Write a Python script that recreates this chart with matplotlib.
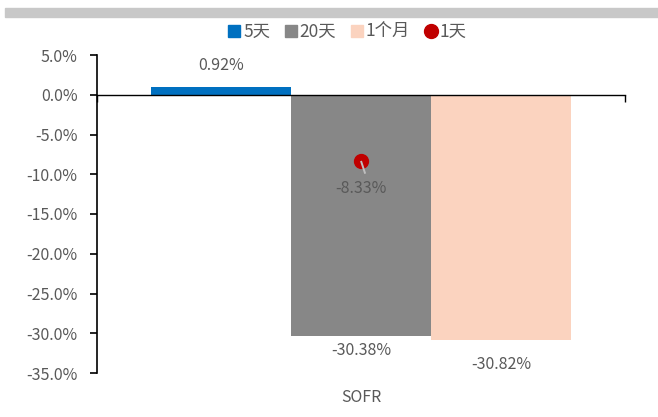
import matplotlib
matplotlib.use("Agg")
import matplotlib.pyplot as plt
from matplotlib.lines import Line2D
from matplotlib.patches import Rectangle

plt.rcParams['font.family'] = ['Noto Sans CJK SC', 'DejaVu Sans']

categories = ['SOFR']
series_names = ['5天', '20天', '1个月']
series_values = [0.92, -30.38, -30.82]
series_colors = ['#0070C0', '#878787', '#FBD3BF']
dot_name = '1天'
dot_value = -8.33
yticks = [5, 0, -5, -10, -15, -20, -25, -30, -35]

txt = '#595959'
fs = 11.5
fig = plt.figure(figsize=(6.58, 4.17), dpi=100)
ax = fig.add_axes([97/658, 1-373/417, 528/658, 318/417])

fig.patches.append(Rectangle((5/658, 1-17/417), 653/658, 9/417, transform=fig.transFigure,
                             color='#C8C8C8', zorder=0))

offsets = [-1, 0, 1]
label_gap = {-1: 2.73, 0: -1.82, 1: -3.14}
for off, v, c in zip(offsets, series_values, series_colors):
    ax.bar(0 + off, v, width=1.0, color=c, zorder=2)
    ax.text(0 + off, v + label_gap[off], f'{v:.2f}%', ha='center', va='center', fontsize=fs, color=txt)

ax.plot([0], [dot_value], 'o', color='#C00000', markersize=10, zorder=4)
ax.plot([0, 0.03], [dot_value, dot_value - 1.6], color='#BFBFBF', lw=1.4, zorder=5,
        solid_capstyle='butt')
ax.text(0, dot_value - 3.5, f'{dot_value:.2f}%', ha='center', va='center', fontsize=fs, color=txt, zorder=5)

ax.set_xlim(-1.886, 1.886)
ax.set_ylim(-35, 5)
ax.set_yticks(yticks)
ax.set_yticklabels([f'{t:.1f}%' for t in yticks], fontsize=fs, color=txt)
ax.tick_params(axis='y', direction='out', length=5, width=1.2, color='black', pad=9)
ax.spines['left'].set_linewidth(1.2)
ax.spines['right'].set_visible(False)
ax.spines['top'].set_visible(False)
ax.spines['bottom'].set_position(('data', 0))
ax.spines['bottom'].set_linewidth(1.0)
ax.spines['bottom'].set_zorder(5)
ax.set_xticks([-1.886, 1.886])
ax.set_xticklabels(['', ''])
ax.tick_params(axis='x', direction='out', length=5, width=1.0)
ax.text(0, -38.1, categories[0], ha='center', va='center', fontsize=fs, color=txt)

handles = [Line2D([], [], marker='s', linestyle='none', color=c, markersize=9) for c in series_colors]
handles.append(Line2D([], [], marker='o', linestyle='none', color='#C00000', markersize=10))
fig.legend(handles, series_names + [dot_name], loc='center', bbox_to_anchor=(347/658, 1-32/417),
           ncol=4, frameon=False, fontsize=12.5, labelcolor=txt, handletextpad=0.1,
           columnspacing=0.8, handlelength=0.8)

fig.savefig('out.png', dpi=100)
